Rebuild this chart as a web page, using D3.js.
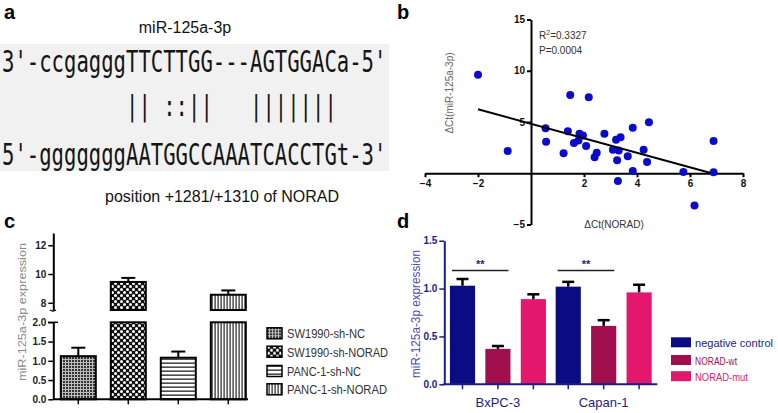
<!DOCTYPE html>
<html lang="en">
<head>
<meta charset="UTF-8">
<title>NORAD / miR-125a-3p</title>
<script src="https://d3js.org/d3.v7.min.js"></script>
<style>
  body { margin: 0; background: #fff; }
  text { font-family: Arial, "Liberation Sans", sans-serif; }
</style>
</head>
<body>
<svg id="fig" width="778" height="413"></svg>
<script>
// ---- panel a : sequence alignment
var mirName = "miR-125a-3p";
var seqTop = "3'-ccgagggTTCTTGG---AGTGGACa-5'";
var seqPair = "|| ::||   |||||||";
var seqBottom = "5'-gggggggAATGGCCAAATCACCTGt-3'";
var seqNote = "position +1281/+1310 of NORAD";

// ---- panel b : correlation
var ctNorad = [-2.0, -0.88, 1.48, 2.18, 0.55, 0.57, 1.39, 1.23, 1.83, 1.96, 1.62, 1.79, 2.08, 2.77, 2.48, 2.40,
               3.09, 3.21, 3.38, 3.31, 3.25, 3.65, 3.84, 3.84, 3.28, 4.25, 4.45, 4.38, 5.75, 6.89, 6.89, 6.17];
var ctMir   = [9.6, 2.17, 7.64, 7.41, 4.4, 3.07, 4.1, 1.94, 3.85, 3.69, 2.94, 3.2, 2.65, 3.85, 2.01, 1.55,
               2.3, 3.27, 3.52, 2.23, 1.26, 1.65, 4.44, 0.22, -0.75, 2.3, 4.98, 1.1, 0.13, 3.14, 0.1, -3.14];
var fitX = [-2, 6.75];
var fitY = [6.24, 0.05];
var bXTicks = [-4, -2, 2, 4, 6, 8];
var bYTicks = [-5, 5, 10, 15];

// ---- panel c : knockdown
var cGroups = ["SW1990-sh-NC", "SW1990-sh-NORAD", "PANC-1-sh-NC", "PANC-1-sh-NORAD"];
var cMean = [1.12, 9.45, 1.08, 8.56];
var cErr = [0.22, 0.28, 0.16, 0.30];
var cTicksLow = [0, 0.5, 1, 1.5, 2];
var cTicksHigh = [8, 10, 12];

// ---- panel d : luciferase
var dCells = ["BxPC-3", "Capan-1"];
var dSeries = ["negative control", "NORAD-wt", "NORAD-mut"];
var dNC = [1.03, 1.02], dWt = [0.37, 0.61], dMut = [0.89, 0.96];
var dErrNC = [0.07, 0.05], dErrWt = [0.03, 0.06], dErrMut = [0.05, 0.08];
var dTicks = [0, 0.5, 1, 1.5];
var dSig = ["**", "**"];
var dSigLevel = 1.19;

var svg = d3.select("#fig");

function panelLetter(x, y, t) {
  svg.append("text").attr("x", x).attr("y", y).text(t)
    .style("font-size", "20px").style("font-weight", "bold");
}

// ================= a
panelLetter(4, 19, "a");
svg.append("rect").attr("x", 0).attr("y", 44).attr("width", 389).attr("height", 127).attr("fill", "#f1f1f1");
svg.append("text").attr("x", 185).attr("y", 33).attr("text-anchor", "middle")
  .style("font-size", "16px").style("fill", "#111").text(mirName);
var cw = 12.4;
function seqLine(str, x0, y, size) {
  svg.append("text").attr("x", x0).attr("y", y)
    .attr("textLength", str.length * cw).attr("lengthAdjust", "spacingAndGlyphs")
    .style("font-family", "'DejaVu Sans Mono', monospace").style("font-size", size + "px")
    .style("fill", "#151515").style("white-space", "pre").text(str);
}
seqLine(seqTop, 2, 72, 30);
seqLine(seqPair, 2 + cw * 10, 115.5, 28);
seqLine(seqBottom, 2, 164.5, 30);
svg.append("text").attr("x", 222).attr("y", 202).attr("text-anchor", "middle")
  .style("font-size", "16px").style("fill", "#111").text(seqNote);

// ================= b
panelLetter(397, 19, "b");
var bx = d3.scaleLinear().domain([-4, 8]).range([425, 743]);
var by = d3.scaleLinear().domain([-5, 15]).range([224.5, 19.5]);
var bg = svg.append("g");
var bxAxis = bg.append("g").attr("transform", "translate(0," + by(0) + ")")
  .call(d3.axisBottom(bx).tickValues(bXTicks).tickSize(4).tickSizeOuter(0).tickPadding(3));
var byAxis = bg.append("g").attr("transform", "translate(" + bx(0) + ",0)")
  .call(d3.axisLeft(by).tickValues(bYTicks).tickSize(4).tickSizeOuter(0).tickPadding(2));
[bxAxis, byAxis].forEach(function(a) {
  a.select(".domain").attr("stroke", "#000").attr("stroke-width", 2);
  a.selectAll(".tick line").attr("stroke", "#000").attr("stroke-width", 2);
  a.selectAll("text").style("font-size", "10px").style("font-weight", "bold").attr("fill", "#111")
    .style("font-family", "Arial, 'Liberation Sans', sans-serif");
});
bg.selectAll("circle").data(ctNorad).enter().append("circle")
  .attr("cx", function(d) { return bx(d); })
  .attr("cy", function(d, i) { return by(ctMir[i]); })
  .attr("r", 4).attr("fill", "#0b0bcc");
bg.append("line").attr("x1", bx(fitX[0])).attr("y1", by(fitY[0]))
  .attr("x2", bx(fitX[1])).attr("y2", by(fitY[1]))
  .attr("stroke", "#000").attr("stroke-width", 2);
var r2 = bg.append("text").attr("x", 539).attr("y", 39).style("font-size", "10px").attr("fill", "#333");
r2.append("tspan").text("R");
r2.append("tspan").attr("dy", -4).style("font-size", "7px").text("2");
r2.append("tspan").attr("dy", 4).text("=0.3327");
bg.append("text").attr("x", 539).attr("y", 54).style("font-size", "10px").attr("fill", "#333").text("P=0.0004");
bg.append("text").attr("transform", "translate(453,93) rotate(-90)").attr("text-anchor", "middle")
  .style("font-size", "10px").attr("fill", "#666").text("\u0394Ct(miR-125a-3p)");
bg.append("text").attr("x", 614).attr("y", 228).attr("text-anchor", "middle")
  .style("font-size", "10px").attr("fill", "#333").text("\u0394Ct(NORAD)");

// ================= c
panelLetter(4, 228, "c");
var defs = svg.append("defs");
var p1 = defs.append("pattern").attr("id", "pDots").attr("patternUnits", "userSpaceOnUse").attr("width", 3).attr("height", 3);
p1.append("rect").attr("width", 3).attr("height", 3).attr("fill", "#bdbdbd");
p1.append("rect").attr("width", 2).attr("height", 2).attr("fill", "#333");
var p2 = defs.append("pattern").attr("id", "pCheck").attr("patternUnits", "userSpaceOnUse").attr("width", 6).attr("height", 6);
p2.append("rect").attr("width", 6).attr("height", 6).attr("fill", "#111");
p2.append("circle").attr("cx", 1.5).attr("cy", 1.5).attr("r", 1.5).attr("fill", "#fff");
p2.append("circle").attr("cx", 4.5).attr("cy", 4.5).attr("r", 1.5).attr("fill", "#fff");
var p3 = defs.append("pattern").attr("id", "pHLine").attr("patternUnits", "userSpaceOnUse").attr("width", 4).attr("height", 4);
p3.append("rect").attr("width", 4).attr("height", 4).attr("fill", "#fff");
p3.append("rect").attr("y", 2.5).attr("width", 4).attr("height", 1.3).attr("fill", "#222");
var p4 = defs.append("pattern").attr("id", "pVLine").attr("patternUnits", "userSpaceOnUse").attr("width", 3).attr("height", 3);
p4.append("rect").attr("width", 3).attr("height", 3).attr("fill", "#fff");
p4.append("rect").attr("x", 1.5).attr("width", 1.2).attr("height", 3).attr("fill", "#222");
var cFill = ["url(#pDots)", "url(#pCheck)", "url(#pHLine)", "url(#pVLine)"];

var cx = d3.scaleBand().domain(cGroups).range([53.3, 253.3]).paddingInner(0.3).paddingOuter(0.15);
var cyLow = d3.scaleLinear().domain([0, 2]).range([399.3, 322.3]);
var cyHigh = d3.scaleLinear().domain([7.5, 12.85]).range([310, 233]);
var cg = svg.append("g");
cGroups.forEach(function(gname, i) {
  var x0 = cx(gname), w = cx.bandwidth(), v = cMean[i];
  var topLow = cyLow(Math.min(v, 2));
  cg.append("rect").attr("x", x0).attr("y", topLow).attr("width", w).attr("height", cyLow(0) - topLow)
    .attr("fill", cFill[i]).attr("stroke", "#000").attr("stroke-width", 2);
  var ys = v > 2 ? cyHigh : cyLow;
  if (v > 2) {
    cg.append("rect").attr("x", x0).attr("y", cyHigh(v)).attr("width", w).attr("height", cyHigh(7.5) - cyHigh(v))
      .attr("fill", cFill[i]).attr("stroke", "#000").attr("stroke-width", 2);
  }
  var xm = x0 + w / 2;
  cg.append("line").attr("x1", xm).attr("x2", xm).attr("y1", ys(v)).attr("y2", ys(v + cErr[i]))
    .attr("stroke", "#000").attr("stroke-width", 2);
  cg.append("line").attr("x1", xm - 7).attr("x2", xm + 7).attr("y1", ys(v + cErr[i])).attr("y2", ys(v + cErr[i]))
    .attr("stroke", "#000").attr("stroke-width", 2);
});
var cAxLow = cg.append("g").attr("transform", "translate(53.3,0)")
  .call(d3.axisLeft(cyLow).tickValues(cTicksLow).tickFormat(d3.format(".1f")).tickSize(5).tickSizeOuter(0).tickPadding(2));
var cAxHigh = cg.append("g").attr("transform", "translate(53.3,0)")
  .call(d3.axisLeft(cyHigh).tickValues(cTicksHigh).tickFormat(d3.format("d")).tickSize(5).tickSizeOuter(0).tickPadding(2));
var cAxX = cg.append("g").attr("transform", "translate(0," + cyLow(0) + ")")
  .call(d3.axisBottom(cx).tickSize(5).tickSizeOuter(0).tickFormat(""));
cAxX.select(".domain").attr("d", "M53.3,0H248");
[cAxLow, cAxHigh, cAxX].forEach(function(a) {
  a.select(".domain").attr("stroke", "#000").attr("stroke-width", 2);
  a.selectAll(".tick line").attr("stroke", "#000").attr("stroke-width", 1.5);
  a.selectAll("text").style("font-size", "10px").style("font-weight", "bold").attr("fill", "#222")
    .style("font-family", "Arial, 'Liberation Sans', sans-serif");
});
// axis break marks
cg.append("path").attr("d", "M50,310 Q53,312 56,310").attr("fill", "none").attr("stroke", "#000").attr("stroke-width", 1.5);
cg.append("line").attr("x1", 48).attr("x2", 58).attr("y1", 322.3).attr("y2", 322.3).attr("stroke", "#000").attr("stroke-width", 1.5);
cg.append("text").attr("transform", "translate(26,312) rotate(-90)").attr("text-anchor", "middle")
  .attr("textLength", 138).attr("lengthAdjust", "spacingAndGlyphs")
  .style("font-size", "11px").attr("fill", "#8a8a8a").text("miR-125a-3p expression");
var cLegW = [78, 101, 74, 100];
var cLeg = cg.selectAll(".cleg").data(cGroups).enter().append("g")
  .attr("transform", function(d, i) { return "translate(267," + [333.3, 351.7, 371, 389.3][i] + ")"; });
cLeg.append("rect").attr("x", 0).attr("y", -5.5).attr("width", 15).attr("height", 11)
  .attr("fill", function(d, i) { return cFill[i]; }).attr("stroke", "#000").attr("stroke-width", 1.5);
cLeg.append("text").attr("x", 20).attr("y", 5).style("font-size", "12px").attr("fill", "#333")
  .attr("textLength", function(d, i) { return cLegW[i]; }).attr("lengthAdjust", "spacingAndGlyphs")
  .text(function(d) { return d; });

// ================= d
panelLetter(397, 228, "d");
var navy = "#1c1c8a";
var dColors = ["#0c0c82", "#a10f4e", "#e3186d"];
var dVals = [dNC, dWt, dMut], dErrs = [dErrNC, dErrWt, dErrMut];
var dx = d3.scaleBand().domain(dCells).range([444.3, 657.3]).paddingInner(0.092).paddingOuter(0.053);
var dxs = d3.scaleBand().domain(dSeries).range([0, dx.bandwidth()]).paddingInner(0.29);
var dy = d3.scaleLinear().domain([0, 1.5]).range([384.3, 240.7]);
var dg = svg.append("g");
dCells.forEach(function(cell, ci) {
  dSeries.forEach(function(s, si) {
    var x0 = dx(cell) + dxs(s), w = dxs.bandwidth(), v = dVals[si][ci], e = dErrs[si][ci];
    dg.append("rect").attr("x", x0).attr("y", dy(v)).attr("width", w).attr("height", dy(0) - dy(v))
      .attr("fill", dColors[si]);
    var xm = x0 + w / 2;
    dg.append("line").attr("x1", xm).attr("x2", xm).attr("y1", dy(v)).attr("y2", dy(v + e))
      .attr("stroke", "#000").attr("stroke-width", 2.5);
    dg.append("line").attr("x1", xm - 6).attr("x2", xm + 6).attr("y1", dy(v + e)).attr("y2", dy(v + e))
      .attr("stroke", "#000").attr("stroke-width", 2.5);
    dg.append("line").attr("x1", xm).attr("x2", xm).attr("y1", dy(0)).attr("y2", dy(0) + 5)
      .attr("stroke", navy).attr("stroke-width", 1.5);
  });
  var xa = dx(cell) + dxs(dSeries[0]) + 2, xb = dx(cell) + dxs(dSeries[1]) + dxs.bandwidth() - 2;
  dg.append("line").attr("x1", xa).attr("x2", xb).attr("y1", dy(dSigLevel)).attr("y2", dy(dSigLevel))
    .attr("stroke", "#222").attr("stroke-width", 1.5);
  dg.append("text").attr("x", (xa + xb) / 2).attr("y", dy(dSigLevel) - 2).attr("text-anchor", "middle")
    .style("font-size", "11px").style("font-weight", "bold").attr("fill", navy).text(dSig[ci]);
  dg.append("text").attr("x", dx(cell) + dx.bandwidth() / 2).attr("y", 407).attr("text-anchor", "middle")
    .style("font-size", "13px").attr("fill", navy).text(cell);
});
var dAxY = dg.append("g").attr("transform", "translate(444.3,0)")
  .call(d3.axisLeft(dy).tickValues(dTicks).tickFormat(d3.format(".1f")).tickSize(5).tickSizeOuter(0).tickPadding(2));
dAxY.select(".domain").attr("stroke", navy).attr("stroke-width", 2);
dAxY.selectAll(".tick line").attr("stroke", navy).attr("stroke-width", 1.5);
dAxY.selectAll("text").style("font-size", "10px").style("font-weight", "bold").attr("fill", navy)
  .style("font-family", "Arial, 'Liberation Sans', sans-serif");
dg.append("line").attr("x1", 443.3).attr("x2", 657.3).attr("y1", dy(0)).attr("y2", dy(0))
  .attr("stroke", navy).attr("stroke-width", 2);
dg.append("text").attr("transform", "translate(420,314) rotate(-90)").attr("text-anchor", "middle")
  .attr("textLength", 128).attr("lengthAdjust", "spacingAndGlyphs")
  .style("font-size", "12.5px").attr("fill", "#4b4bb0").text("miR-125a-3p expression");
var dLegW = [78, 42, 53];
var dLeg = dg.selectAll(".dleg").data(dSeries).enter().append("g")
  .attr("transform", function(d, i) { return "translate(671," + [342.3, 360, 376.2][i] + ")"; });
dLeg.append("rect").attr("y", -5).attr("width", 20).attr("height", 10)
  .attr("fill", function(d, i) { return dColors[i]; });
dLeg.append("text").attr("x", 24).attr("y", 4.5).style("font-size", "11px")
  .attr("fill", function(d, i) { return i === 0 ? navy : dColors[i]; })
  .attr("textLength", function(d, i) { return dLegW[i]; }).attr("lengthAdjust", "spacingAndGlyphs")
  .text(function(d) { return d; });
</script>
</body>
</html>
